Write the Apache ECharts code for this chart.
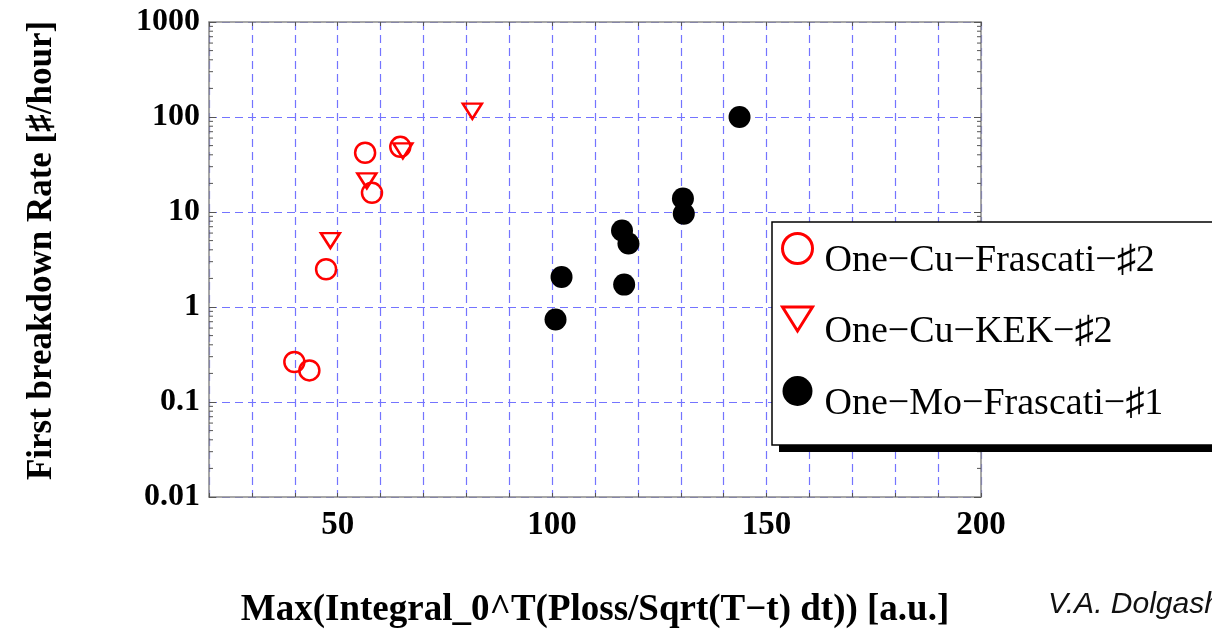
<!DOCTYPE html>
<html>
<head>
<meta charset="utf-8">
<script src="https://cdn.jsdelivr.net/npm/echarts@6/dist/echarts.min.js"></script>
<style>
  html, body { margin: 0; padding: 0; background: #fff; }
  #chart { width: 1212px; height: 635px; }
</style>
</head>
<body>
<div id="chart"></div>
<script>
// Breakdown rate vs. max of the pulse-heating integral, three structures.
const seriesNames = ['One\u2212Cu\u2212Frascati\u2212\u266F2', 'One\u2212Cu\u2212KEK\u2212\u266F2', 'One\u2212Mo\u2212Frascati\u2212\u266F1'];

// [integral (a.u.), first breakdown rate (#/hour)]
const cuFrascati = [[39.9, 0.264], [43.4, 0.215], [47.3, 2.5], [56.4, 42], [58.0, 15.9], [64.6, 48.5]];
const cuKEK = [[48.3, 5.0], [56.8, 21.3], [65.2, 44], [81.4, 115]];
const moFrascati = [[100.8, 0.74], [102.2, 2.07], [116.3, 6.4], [116.8, 1.72], [117.8, 4.66], [130.5, 13.9], [130.7, 9.6], [143.7, 100]];

// Axis ranges and tick labels
const xMin = 20, xMax = 200, xStep = 10;
const xTickLabels = [50, 100, 150, 200];
const yMin = 0.01, yMax = 1000;
const yTickLabels = ['0.01', '0.1', '1', '10', '100', '1000'];

// Minor ticks of the log axis: 2..9 within each decade
const yMinorTicks = [];
for (let d = -2; d < 3; d++) {
  for (let m = 2; m <= 9; m++) yMinorTicks.push(m * Math.pow(10, d));
}

const serif = '"Liberation Serif", "Times New Roman", serif';
const frameColor = '#8a8a8a';
const gridLine = { show: true, lineStyle: { color: '#7474ff', type: [8, 5], width: 1.2 } };

const chart = echarts.init(document.getElementById('chart'), null, { renderer: 'canvas' });

const downTriangle = 'path://M0,0L10,0L5,8Z';

chart.setOption({
  animation: false,
  backgroundColor: '#fff',
  title: {
    text: 'V.A. Dolgashev',
    left: 1043, top: 585,
    textStyle: { fontFamily: '"Liberation Sans Narrow", "Liberation Sans", Arial, sans-serif', fontStyle: 'italic', fontWeight: 'normal', fontSize: 30, color: '#111' }
  },
  grid: { left: 209, top: 22, right: 231, bottom: 138, containLabel: false },
  // solid drop shadow behind the legend box
  graphic: [{
    type: 'rect', left: 779, top: 229, z: 3,
    shape: { width: 480, height: 223 },
    style: { fill: '#000' }
  }],
  legend: {
    orient: 'vertical',
    left: 772, top: 222, z: 5,
    padding: [10, 120, 22, 9],
    itemGap: 25,
    itemWidth: 30, itemHeight: 30,
    backgroundColor: '#fff',
    borderColor: '#000', borderWidth: 1.5,
    formatter: name => '{t|' + name + '}',
    textStyle: {
      fontFamily: serif, fontSize: 38, color: '#000',
      rich: { t: { fontFamily: serif, fontSize: 38, color: '#000', padding: [13, 0, -13, 7] } }
    },
    data: [
      { name: seriesNames[0], icon: 'circle', itemStyle: { color: 'rgba(0,0,0,0)', borderColor: '#ff0000', borderWidth: 3 } },
      { name: seriesNames[1], icon: downTriangle, itemStyle: { color: 'rgba(0,0,0,0)', borderColor: '#ff0000', borderWidth: 3 } },
      { name: seriesNames[2], icon: 'circle' }
    ]
  },
  xAxis: [{
    type: 'value', min: xMin, max: xMax, interval: xStep,
    axisLine: { show: true, onZero: false, lineStyle: { color: frameColor, width: 1.5 } },
    axisTick: { show: true, inside: true, length: 4, lineStyle: { color: '#555' } },
    axisLabel: {
      margin: 12, color: '#000', fontFamily: serif, fontWeight: 'bold', fontSize: 33,
      formatter: v => (xTickLabels.indexOf(Math.round(v)) >= 0 ? String(Math.round(v)) : '')
    },
    splitLine: gridLine,
    name: 'Max(Integral_0^T(Ploss/Sqrt(T\u2212t) dt)) [a.u.]',
    nameLocation: 'middle', nameGap: 95,
    nameTextStyle: { fontFamily: serif, fontWeight: 'bold', fontSize: 37, color: '#000' }
  }, {
    type: 'value', min: xMin, max: xMax, interval: xStep, position: 'top',
    axisLine: { show: true, onZero: false, lineStyle: { color: frameColor, width: 1.5 } },
    axisTick: { show: true, inside: true, length: 4, lineStyle: { color: '#555' } },
    axisLabel: { show: false }, splitLine: { show: false }
  }],
  yAxis: [{
    type: 'log', logBase: 10, min: yMin, max: yMax,
    axisLine: { show: true, onZero: false, lineStyle: { color: frameColor, width: 1.5 } },
    axisTick: { show: true, inside: true, length: 7, lineStyle: { color: '#555' } },
    axisLabel: {
      margin: 9, color: '#000', fontFamily: serif, fontWeight: 'bold', fontSize: 32,
      formatter: v => yTickLabels[Math.round(Math.log10(v)) + 2]
    },
    splitLine: gridLine,
    name: 'First breakdown Rate [\u266F/hour]',
    nameLocation: 'middle', nameGap: 150, nameRotate: 90,
    nameTextStyle: { fontFamily: serif, fontWeight: 'bold', fontSize: 35, color: '#000', padding: [0, 0, 0, 18] }
  }, {
    type: 'log', logBase: 10, min: yMin, max: yMax, position: 'right',
    axisLine: { show: true, onZero: false, lineStyle: { color: frameColor, width: 1.5 } },
    axisTick: { show: true, inside: true, length: 7, lineStyle: { color: '#555' } },
    axisLabel: { show: false }, splitLine: { show: false }
  }],
  series: [
    {
      // log-axis minor ticks on the left and right frame edges
      type: 'custom', silent: true, z: 1,
      data: yMinorTicks,
      renderItem: (params, api) => {
        const v = api.value(0);
        const l = api.coord([xMin, v]);
        const r = api.coord([xMax, v]);
        const style = { stroke: '#555', lineWidth: 1 };
        return {
          type: 'group',
          children: [
            { type: 'line', shape: { x1: l[0], y1: l[1], x2: l[0] + 4, y2: l[1] }, style },
            { type: 'line', shape: { x1: r[0], y1: r[1], x2: r[0] - 4, y2: r[1] }, style }
          ]
        };
      },
      encode: { y: 0 }
    },
    {
      name: seriesNames[0], type: 'scatter', data: cuFrascati, z: 3,
      symbol: 'circle', symbolSize: 20,
      itemStyle: { color: 'rgba(0,0,0,0)', borderColor: '#ff0000', borderWidth: 2.5, opacity: 1 }
    },
    {
      name: seriesNames[1], type: 'scatter', data: cuKEK, z: 3,
      symbol: downTriangle, symbolSize: [19, 15],
      itemStyle: { color: 'rgba(0,0,0,0)', borderColor: '#ff0000', borderWidth: 2.5, opacity: 1 }
    },
    {
      name: seriesNames[2], type: 'scatter', data: moFrascati, z: 4,
      symbol: 'circle', symbolSize: 22,
      itemStyle: { color: '#000', opacity: 1 }
    }
  ]
});
</script>
</body>
</html>
